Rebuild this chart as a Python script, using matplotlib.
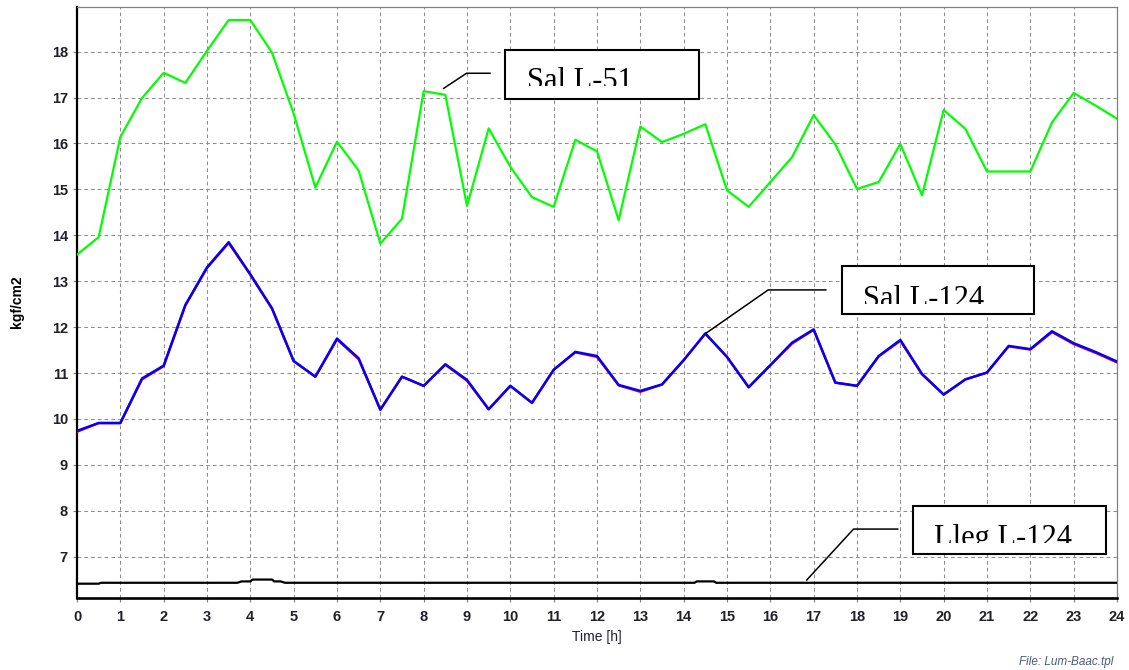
import matplotlib
matplotlib.use("Agg")
import matplotlib.pyplot as plt
from matplotlib.patches import Rectangle
from matplotlib.transforms import Bbox, TransformedBbox

# time axis, one reading every half hour
hours = [i * 0.5 for i in range(49)]

sal_l51 = [13.58, 13.96, 16.14, 16.99, 17.54, 17.32, 18.02, 18.69, 18.69, 17.98,
           16.65, 15.04, 16.04, 15.41, 13.82, 14.36, 17.14, 17.06, 14.64, 16.33,
           15.49, 14.83, 14.62, 16.08, 15.83, 14.33, 16.37, 16.03, 16.21, 16.42,
           14.98, 14.62, 15.16, 15.70, 16.62, 15.98, 15.01, 15.16, 15.99, 14.87,
           16.73, 16.32, 15.39, 15.39, 15.39, 16.46, 17.10, 16.83, 16.54]

sal_l124 = [9.74, 9.91, 9.91, 10.88, 11.16, 12.48, 13.30, 13.85, 13.15, 12.41,
            11.26, 10.92, 11.75, 11.32, 10.20, 10.92, 10.72, 11.19, 10.85, 10.21,
            10.72, 10.35, 11.07, 11.46, 11.37, 10.74, 10.61, 10.75, 11.28, 11.86,
            11.35, 10.69, 11.17, 11.66, 11.95, 10.79, 10.72, 11.37, 11.72, 10.98,
            10.53, 10.86, 11.01, 11.59, 11.52, 11.91, 11.65, 11.46, 11.25]

# second outlet sensor, almost on top of the blue one
sal_l124_b = [9.72, 9.91, 9.91, 10.86, 11.15, 12.47, 13.29, 13.83, 13.14, 12.40,
              11.26, 10.92, 11.73, 11.30, 10.20, 10.92, 10.72, 11.18, 10.83, 10.21,
              10.72, 10.35, 11.07, 11.45, 11.35, 10.73, 10.59, 10.75, 11.28, 11.86,
              11.35, 10.69, 11.17, 11.64, 11.94, 10.79, 10.72, 11.36, 11.70, 10.97,
              10.53, 10.86, 11.01, 11.58, 11.51, 11.89, 11.63, 11.44, 11.23]

lleg_t = [0, 0.5, 0.55, 3.7, 3.8, 4.0, 4.05, 4.5, 4.55, 4.7, 4.8, 14.25, 14.3, 14.7, 14.75, 24]
lleg_v = [6.41, 6.41, 6.43, 6.43, 6.46, 6.46, 6.50, 6.50, 6.46, 6.46, 6.43, 6.43, 6.46, 6.46, 6.43, 6.43]

x_ticks = list(range(0, 25))
y_ticks = list(range(7, 19))

sans = ['Liberation Sans', 'DejaVu Sans']
serif = ['Liberation Serif', 'DejaVu Serif']

fig = plt.figure(figsize=(11.29, 6.70), dpi=100)
ax = fig.add_axes([77 / 1129, 1 - 597.7 / 670, 1040 / 1129, 591 / 670])

ax.plot(hours, sal_l51, color='#00ff00', lw=1.6, zorder=3)
ax.plot(hours, sal_l124_b, color='#ff0000', lw=1.7, zorder=3)
ax.plot(hours, sal_l124, color='#0000ff', lw=1.8, zorder=4)
ax.plot(lleg_t, lleg_v, color='black', lw=1.6, zorder=4)

ax.set_xlim(0, 24)
ax.set_ylim(6.105, 18.98)
ax.set_xticks(x_ticks)
ax.set_yticks(y_ticks)
ax.grid(True, color='#8c8c8c', lw=0.75, linestyle=(0, (3.5, 3)))
ax.set_axisbelow(True)

for lab in ax.get_xticklabels() + ax.get_yticklabels():
    lab.set_family(sans)
    lab.set_fontweight('bold')
    lab.set_fontsize(10.5)
    lab.set_color('#202028')
ax.tick_params(axis='both', length=3, width=0.8, color='#808080')
ax.tick_params(axis='x', pad=5.5)
ax.tick_params(axis='y', pad=3.5)

ax.spines['left'].set_linewidth(1.6)
ax.spines['bottom'].set_linewidth(1.9)
for s in ('top', 'right'):
    ax.spines[s].set_color('#808080')
    ax.spines[s].set_linewidth(0.9)

ax.set_xlabel('Time [h]', family=sans, fontsize=10, color='#202028')
ax.xaxis.set_label_coords(0.5, -0.066)
ax.xaxis.label.set_va('center')
ax.set_ylabel('kgf/cm2', family=sans, fontweight='bold', fontsize=10, color='black')
ax.yaxis.set_label_coords(-0.058, 0.5)
ax.yaxis.label.set_va('center')


def label_box(x0, x1, y0, y1, text, tx, ty, clip_y, leader):
    ax.add_patch(Rectangle((x0, y0), x1 - x0, y1 - y0, facecolor='white',
                           edgecolor='black', lw=1.5, zorder=6))
    t = ax.text(tx, ty, text, family=serif, fontsize=22, color='black',
                ha='left', va='baseline', zorder=7, clip_on=True)
    t.set_clip_box(TransformedBbox(Bbox([[x0, clip_y], [x1, y1]]), ax.transData))
    lx, ly = zip(*leader)
    ax.plot(lx, ly, color='black', lw=1.1, zorder=6)


label_box(9.88, 14.35, 16.98, 18.04, 'Sal L-51', 10.38, 17.19, 17.25,
          [(8.46, 17.20), (8.99, 17.53), (9.53, 17.53)])
label_box(17.65, 22.08, 12.29, 13.33, 'Sal L-124', 18.14, 12.44, 12.50,
          [(14.52, 11.87), (15.95, 12.81), (17.28, 12.81)])
label_box(19.30, 23.75, 7.06, 8.10, 'Lleg L-124', 19.78, 7.23, 7.30,
          [(16.84, 6.49), (17.92, 7.60), (18.94, 7.60)])

fig.text(1113 / 1129, 1 - 662 / 670, 'File: Lum-Baac.tpl', family=sans, style='italic',
         fontsize=8.5, color='#4a5a80', ha='right', va='center')

fig.savefig('out.png', dpi=100)
